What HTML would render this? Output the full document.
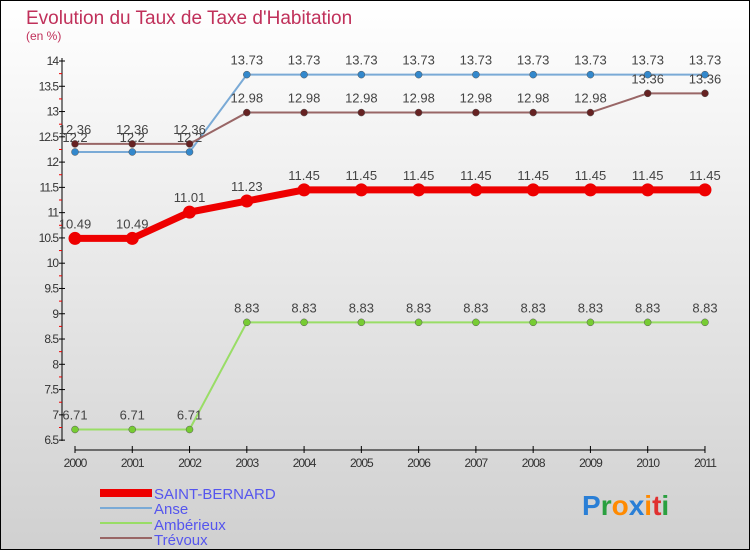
<!DOCTYPE html>
<html><head><meta charset="utf-8"><style>
body{margin:0}
svg text{font-family:"Liberation Sans",sans-serif}
</style></head><body>
<svg width="750" height="550" xmlns="http://www.w3.org/2000/svg">
<defs><linearGradient id="bg" x1="0" y1="0" x2="0" y2="1"><stop offset="0" stop-color="#ffffff"/><stop offset="1" stop-color="#d0d0d0"/></linearGradient></defs>
<rect x="0.5" y="0.5" width="749" height="549" fill="url(#bg)" stroke="#000"/>
<text x="26" y="24" font-size="19" fill="#c0305a">Evolution du Taux de Taxe d'Habitation</text>
<text x="26" y="40" font-size="12" fill="#c0305a">(en %)</text>
<g id="axes"></g>
<g id="series"></g>
<g>
<rect x="100" y="489" width="52" height="8" fill="#ee0000"/>
<text x="154" y="499" font-size="15" fill="#5555ee">SAINT-BERNARD</text>
<line x1="100" y1="508" x2="152" y2="508" stroke="#7aaad6" stroke-width="2"/>
<text x="154" y="514" font-size="15" fill="#5555ee">Anse</text>
<line x1="100" y1="523" x2="152" y2="523" stroke="#99dd66" stroke-width="2"/>
<text x="154" y="530" font-size="15" fill="#5555ee">Ambérieux</text>
<line x1="100" y1="538" x2="152" y2="538" stroke="#996666" stroke-width="2"/>
<text x="154" y="545" font-size="15" fill="#5555ee">Trévoux</text>
</g>
<text x="582" y="515" font-size="28" font-family="Liberation Sans" font-weight="bold"><tspan fill="#2a7fd6">P</tspan><tspan fill="#2aa040">r</tspan><tspan fill="#ff8a00">o</tspan><tspan fill="#2a7fd6">x</tspan><tspan fill="#ff8a00">i</tspan><tspan fill="#e03030">t</tspan><tspan fill="#2aa040">i</tspan></text>
</svg>
<script>
const years=["2000","2001","2002","2003","2004","2005","2006","2007","2008","2009","2010","2011"];
const yTicks=[6.5,7,7.5,8,8.5,9,9.5,10,10.5,11,11.5,12,12.5,13,13.5,14];
const saintBernard=[10.49,10.49,11.01,11.23,11.45,11.45,11.45,11.45,11.45,11.45,11.45,11.45];
const anse=[12.2,12.2,12.2,13.73,13.73,13.73,13.73,13.73,13.73,13.73,13.73,13.73];
const amberieux=[6.71,6.71,6.71,8.83,8.83,8.83,8.83,8.83,8.83,8.83,8.83,8.83];
const trevoux=[12.36,12.36,12.36,12.98,12.98,12.98,12.98,12.98,12.98,12.98,13.36,13.36];
const NS="http://www.w3.org/2000/svg";
const x=i=>75+i*57.27;
const y=v=>61+(14-v)*50.55;
function mk(t,a,p){const e=document.createElementNS(NS,t);for(const k in a)e.setAttribute(k,a[k]);p.appendChild(e);return e;}
const ax=document.getElementById('axes');
const yl=mk('line',{x1:62,y1:58,x2:62,y2:441,stroke:'#000'},ax);


yTicks.forEach(v=>{
 mk('line',{x1:59,y1:y(v),x2:65,y2:y(v),stroke:'#000'},ax);
 if(v<14)mk('line',{x1:59,y1:y(v+0.25),x2:62,y2:y(v+0.25),stroke:'#e00'},ax);
 const t=mk('text',{x:58,y:y(v)+4,'font-size':12,fill:'#333','text-anchor':'end','letter-spacing':'-1'},ax);
 
 
 t.textContent=String(v);
});
const xl=mk('line',{x1:75,y1:450,x2:705,y2:450,stroke:'#000'},ax);


years.forEach((yr,i)=>{
 mk('line',{x1:x(i),y1:446,x2:x(i),y2:453,stroke:'#000'},ax);
 const t=mk('text',{x:x(i),y:467,'font-size':12,fill:'#333','text-anchor':'middle','letter-spacing':'-1'},ax);
 
 
 t.textContent=yr;
});
const sg=document.getElementById('series');
function series(name,data,color,dot,w,r){
 const g=mk('g',{},sg);
 
 
 mk('polyline',{points:data.map((v,i)=>x(i)+','+y(v)).join(' '),fill:'none',stroke:color,'stroke-width':w},g);
 data.forEach((v,i)=>{
  const c=mk('circle',{cx:x(i),cy:y(v),r:r,fill:dot,stroke:w>3?'none':'#555','stroke-width':0.5},g);
  
  
  const t=mk('text',{x:x(i),y:y(v)-10,'font-size':13,fill:'#444','text-anchor':'middle'},g);
  
  
  t.textContent=String(v);
 });
}
series('series-amberieux',amberieux,'#99dd66','#77cc33',2,3.5);
series('series-saint-bernard',saintBernard,'#ee0000','#ee0000',7,6.5);
series('series-anse',anse,'#7aaad6','#3388cc',2,3.5);
series('series-trevoux',trevoux,'#996666','#662222',2,3.5);
</script>
</body></html>
